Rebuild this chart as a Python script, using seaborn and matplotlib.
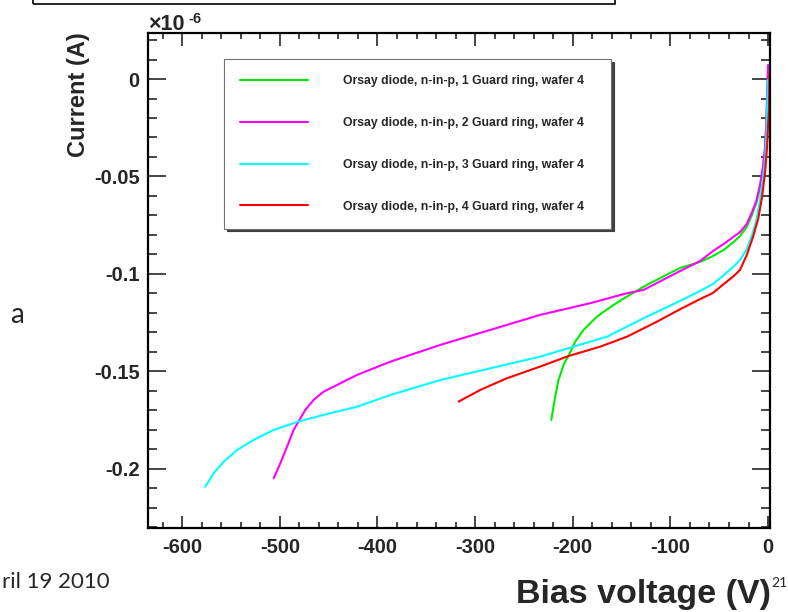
import numpy as np
import pandas as pd
import matplotlib
matplotlib.use("Agg")
import matplotlib.pyplot as plt
import matplotlib.ticker as mticker
from matplotlib.patches import Rectangle
import seaborn as sns

# bias voltage (V) and current (units of 1e-6 A)
v_gr1 = [-222, -218, -214.6, -208.8, -204.4, -197.5, -189, -175.3, -158.3, -144.6, -124.1,
         -90.1, -69.6, -56.3, -45, -35, -28.7, -22, -16.4, -12, -8.2, -5, -3.1, -1.8, -1, 0]
i_gr1 = [-0.1749, -0.1629, -0.1544, -0.1458, -0.1421, -0.1347, -0.1287, -0.1219, -0.1159,
         -0.1116, -0.1056, -0.0969, -0.0938, -0.0908, -0.0875, -0.0835, -0.0805, -0.0760,
         -0.0697, -0.0635, -0.0559, -0.046, -0.0364, -0.024, -0.0133, 0.002]

v_gr2 = [-506.3, -499.5, -492.6, -485.9, -480.8, -473.9, -465.4, -455.2, -438.1, -421.0,
         -404.0, -386.9, -335.7, -284.5, -233.4, -182.2, -144.6, -127.6, -90.1, -70,
         -56.3, -45, -35, -28.7, -22, -16.4, -12, -8.2, -5, -3.1, -1.8, -1, 0]
i_gr2 = [-0.2048, -0.1971, -0.1886, -0.1800, -0.1757, -0.1697, -0.1646, -0.1604, -0.1561,
         -0.1518, -0.1484, -0.1450, -0.1364, -0.1287, -0.1210, -0.1150, -0.1099, -0.1082,
         -0.0985, -0.0935, -0.0882, -0.0845, -0.0808, -0.0785, -0.0745, -0.0682, -0.0625,
         -0.0544, -0.044, -0.0349, -0.022, -0.0092, 0.0072]

v_gr3 = [-576.3, -567.8, -557.5, -543.8, -526.8, -506.3, -480.8, -455.2, -421.0, -386.9,
         -335.7, -284.5, -233.4, -199.3, -165.1, -124.2, -90.1, -70, -56.3, -45, -35,
         -28.7, -22, -16.4, -12, -8.2, -5, -3.1, -1.8, -1, 0]
i_gr3 = [-0.2091, -0.2022, -0.1963, -0.1903, -0.1851, -0.1800, -0.1757, -0.1723, -0.1681,
         -0.1621, -0.1544, -0.1484, -0.1424, -0.1373, -0.1322, -0.1219, -0.1138, -0.1088,
         -0.1051, -0.1005, -0.0960, -0.0928, -0.0875, -0.0800, -0.0725, -0.0621, -0.050,
         -0.0415, -0.030, -0.0185, -0.0005]

v_gr4 = [-317.0, -294.8, -267.5, -233.4, -204.4, -172.0, -144.6, -113.9, -90.1, -70,
         -56.3, -45, -35, -28.7, -22, -15.4, -10, -6.1, -3, -1.0, 0.2, 1.0, 1.5]
i_gr4 = [-0.1655, -0.1595, -0.1535, -0.1475, -0.1421, -0.1373, -0.1322, -0.1245, -0.1181,
         -0.1130, -0.1097, -0.1050, -0.1010, -0.0979, -0.0905, -0.0810, -0.0715, -0.0605,
         -0.0475, -0.0349, -0.022, -0.0159, 0.0031]

labels = ["Orsay diode, n-in-p, 1 Guard ring, wafer 4",
          "Orsay diode, n-in-p, 2 Guard ring, wafer 4",
          "Orsay diode, n-in-p, 3 Guard ring, wafer 4",
          "Orsay diode, n-in-p, 4 Guard ring, wafer 4"]
colors = ["#00ee00", "#ff00ff", "#00ffff", "#ff0000"]

x_ticks = [-600, -500, -400, -300, -200, -100, 0]
y_ticks = [0, -0.05, -0.1, -0.15, -0.2]
y_ticklabels = ["0", "-0.05", "-0.1", "-0.15", "-0.2"]

sns.set_style("ticks")
plt.rcParams['font.family'] = ['Liberation Sans', 'DejaVu Sans']
plt.rcParams['axes.unicode_minus'] = False

W, H = 788, 612
fig = plt.figure(figsize=(W / 100, H / 100), dpi=100)
ax = fig.add_axes([148 / W, 84 / H, 622 / W, 495 / H])

series = [(v_gr1, i_gr1), (v_gr2, i_gr2), (v_gr3, i_gr3), (v_gr4, i_gr4)]
for (v, cur), lab, col in zip(series, labels, colors):
    df = pd.DataFrame({"V": v, "I": cur})
    sns.lineplot(data=df, x="V", y="I", ax=ax, color=col, lw=1.5, label=lab,
                 sort=False, estimator=None)

ax.set_xlim(-635, 2)
ax.set_ylim(-0.2303, 0.0236)
ax.set_xticks(x_ticks)
ax.set_xticklabels([str(t) for t in x_ticks])
ax.set_yticks(y_ticks)
ax.set_yticklabels(y_ticklabels)
ax.xaxis.set_minor_locator(mticker.MultipleLocator(20))
ax.yaxis.set_minor_locator(mticker.MultipleLocator(0.01))
ax.set_xlabel("")
ax.set_ylabel("")

for s in ax.spines.values():
    s.set_linewidth(1.6)
    s.set_color("black")
ax.tick_params(axis="both", which="both", direction="in", top=True, right=True, width=1.2)
ax.tick_params(axis="x", which="major", length=9, pad=7, labelsize=14.5)
ax.tick_params(axis="x", which="minor", length=4.5)
ax.tick_params(axis="y", which="major", length=13, pad=6, labelsize=14.5)
ax.tick_params(axis="y", which="minor", length=6.5)
for t in ax.get_xticklabels() + ax.get_yticklabels():
    t.set_fontweight("bold")

leg = ax.legend(loc="upper left", mode="expand",
                bbox_to_anchor=(224 / W, 0.5, 387 / W, 1 - 59 / H - 0.5),
                bbox_transform=fig.transFigure, borderaxespad=0,
                prop={"weight": "bold", "size": 8.8}, handlelength=5.6,
                handletextpad=2.8, labelspacing=2.45, borderpad=1.3,
                fancybox=False, shadow={"color": "0.25", "alpha": 1.0},
                frameon=True)
leg.get_frame().set_edgecolor("0.45")
leg.get_frame().set_linewidth(0.8)
for ln in leg.get_lines():
    ln.set_linewidth(1.5)

# axis texts drawn the ROOT way
fig.text(643 / W, 1 - 603 / H, "Bias voltage (V)", ha="center", va="baseline",
         fontsize=24.5, fontweight="bold")
fig.text(78 / W, 1 - 95 / H, "Current (A)", rotation=90, ha="center", va="center",
         fontsize=17, fontweight="bold")
fig.text(148 / W, 1 - 30 / H, "\u00d710", ha="left", va="baseline", fontsize=15.5,
         fontweight="bold")
fig.text(188 / W, 1 - 23 / H, "-6", ha="left", va="baseline", fontsize=10.5,
         fontweight="bold")

# slide leftovers around the pasted plot
fig.add_artist(Rectangle((33 / W, 1 - 4 / H), 582 / W, 20 / H, transform=fig.transFigure,
                         fill=False, edgecolor="black", lw=1.2, clip_on=False))
fig.text(17 / W, 1 - 315 / H, "a", ha="center", va="center", fontsize=20,
         color="#262626", family=["Lato", "DejaVu Sans"])
fig.text(2 / W, 1 - 588 / H, "ril 19 2010", ha="left", va="baseline", fontsize=16,
         color="#262626", family=["Lato", "DejaVu Sans"])
fig.text(771 / W, 1 - 587 / H, "21", ha="left", va="baseline", fontsize=10,
         color="#262626", family=["Lato", "DejaVu Sans"])

fig.savefig("out.png", dpi=100)
